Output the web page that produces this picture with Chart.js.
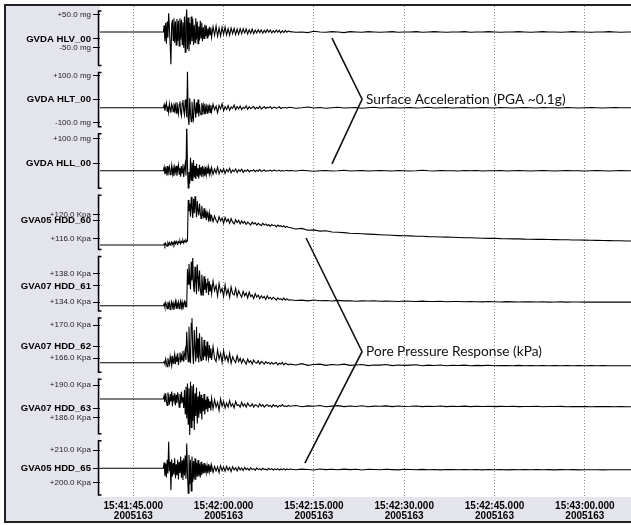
<!DOCTYPE html>
<html>
<head>
<meta charset="utf-8">
<script src="https://cdn.jsdelivr.net/npm/chart.js@4.4.1/dist/chart.umd.min.js"></script>
<style>
  html, body { margin: 0; padding: 0; background: #fff; }
  #myChart { display: block; width: 631px; height: 525px; }
</style>
</head>
<body>
<canvas id="myChart" width="631" height="525"></canvas>
<script>
// channels, top to bottom
const channelNames = ["GVDA HLV_00", "GVDA HLT_00", "GVDA HLL_00", "GVA05 HDD_60",
  "GVA07 HDD_61", "GVA07 HDD_62", "GVA07 HDD_63", "GVA05 HDD_65"];
const channelUnits = ["mg", "mg", "mg", "Kpa", "Kpa", "Kpa", "Kpa", "Kpa"];
const channelTicks = [[50, -50], [100, -100], [100], [120, 116], [138, 134], [170, 166], [190, 186], [210, 200]];

// time axis (seconds after 15:41:00)
const timeTicks = [45, 60, 75, 90, 105, 120];
const timeLabels = ["15:41:45.000", "15:42:00.000", "15:42:15.000", "15:42:30.000", "15:42:45.000", "15:43:00.000"];
const dayLabel = "2005163";

// samples:
// part A every 0.125 s from 50 s, part B every 0.25 s from 58 s, tail every 1 s from 71 s
const startA = 50, stepA = 0.125, startB = 58, stepB = 0.25, startTail = 71, stepTail = 1;

const hlvA = [
  -2, 18, -30, 25, -38, 30, -20, 55,
  10, -40, -101, 20, 35, -28, 40, -35,
  30, -42, 38, -30, 32, -45, 40, -25,
  35, -40, 28, -50, 45, -64, 30, 67,
  -55, 42, -60, 25, -40, 45, -30, 38,
  -42, 20, -35, 40, -25, 30, -38, 15,
  -28, 32, -20, 26, -30, 12, -22, 20,
  -15, 18, -20, 8, -16, 14, -10, 12];
const hlvB = [
  -18, 14, -12, 16, -15, 10, -14, 12, -9, 13,
  -11, 8, -12, 10, -7, 9, -10, 7, -9, 8,
  -7, 8, -5, 7, -8, 5, -6, 7, -7, 4,
  -5, 5, -4, 4, -6, 3, -4, 5, -3, 4,
  -5, 2, -4, 4, -3, 3, -5, 2, -4, 3,
  -3, 1];
const hlvTail = [
  -1, -3, -2, -4, 0, -2, -3, -1, -2, -4,
  -1, -2, -3, -1, -2, -3, -2, -1, -3, -2,
  -2, -1, -3, -2, -1, -2, -3, -2, -2, -1,
  -3, -2, -2, -1, -2, -3, -2, -2, -1, -2,
  -3, -2, -1, -2, -2, -3, -2, -1, -2, -2,
  -3, -2, -2, -1, -2, -3, -2];

const hltA = [
  -35, -22, -48, -28, -14, -50, -30, -55,
  -18, -40, -56, -20, -30, -52, -16, -45,
  -25, -58, -12, -40, -62, -20, -8, -55,
  -70, -15, -2, -48, -65, 0, -30, -75,
  118, -80, -108, 5, -60, -95, -10, -70,
  -85, 2, -40, -78, -12, -60, 0, -72,
  -20, -55, -65, -15, -48, -25, -60, -18,
  -50, -30, -58, -22, -45, -28, -55, -24];
const hltB = [
  -52, -20, -44, -28, -56, -25, -40, -18, -48, -30,
  -42, -26, -46, -32, -38, -24, -44, -30, -40, -28,
  -43, -33, -37, -27, -42, -31, -39, -34, -30, -41,
  -33, -38, -29, -40, -35, -31, -38, -33, -36, -30,
  -39, -34, -32, -37, -35, -31, -38, -34, -36, -33,
  -37, -34];
const hltTail = [
  -33, -37, -35, -32, -36, -34, -37, -35, -33, -36,
  -35, -34, -37, -35, -33, -36, -35, -34, -36, -35,
  -34, -36, -35, -33, -36, -35, -34, -36, -35, -34,
  -36, -35, -34, -35, -36, -34, -35, -36, -35, -34,
  -35, -36, -34, -35, -35, -36, -34, -35, -36, -35,
  -34, -35, -36, -35, -34, -35, -35];

const hllA = [
  -35, -20, -50, -28, -45, -15, -55, -30,
  -18, -52, -38, -12, -48, -25, -58, -20,
  -40, -14, -56, -30, -10, -50, -22, -60,
  -15, -45, -8, -62, -25, -5, -55, 174,
  -20, -108, -40, -90, 20, -75, 0, -80,
  10, -65, -15, -70, -5, -60, -25, -68,
  -10, -55, -20, -62, -15, -50, -28, -58,
  -18, -52, -25, -48, -20, -50, -30, -45];
const hllB = [
  -22, -50, -28, -45, -20, -48, -30, -42, -26, -47,
  -30, -40, -25, -44, -32, -39, -28, -43, -31, -38,
  -29, -42, -33, -37, -30, -40, -34, -36, -31, -39,
  -33, -37, -30, -38, -35, -32, -38, -34, -36, -33,
  -37, -34, -32, -36, -35, -33, -37, -34, -36, -35,
  -33, -36];
const hllTail = [
  -34, -36, -33, -35, -37, -35, -34, -36, -35, -33,
  -36, -35, -34, -36, -35, -34, -35, -36, -34, -35,
  -36, -35, -33, -35, -36, -34, -35, -35, -36, -34,
  -35, -34, -36, -35, -35, -34, -36, -35, -34, -35,
  -36, -35, -34, -35, -36, -35, -34, -35, -35, -36,
  -35, -34, -35, -36, -35, -34, -35];

const hdd60A = [
  114.88, 115.1, 114.75, 115.2, 114.9, 114.7, 115.25, 114.95,
  115.3, 114.85, 115.15, 115.4, 115.0, 115.3, 114.95, 115.45,
  115.1, 115.5, 115.2, 115.0, 115.45, 115.25, 115.55, 115.1,
  115.5, 115.3, 115.65, 115.2, 115.6, 115.4, 115.7, 115.45,
  115.6, 122.4, 120.5, 121.8, 119.6, 122.9, 121.0, 119.4,
  122.6, 120.2, 123.0, 121.2, 119.5, 122.2, 120.6, 119.8,
  121.8, 120.3, 119.3, 121.4, 120.0, 119.6, 121.0, 119.4,
  120.6, 119.0, 120.3, 119.7, 119.1, 120.2, 118.9, 119.9];
const hdd60B = [
  119.8, 118.8, 119.7, 119.0, 118.6, 119.6, 118.9, 119.4, 118.5, 119.5,
  118.8, 119.2, 118.5, 119.3, 118.7, 118.4, 119.1, 118.6, 119.0, 118.4,
  118.9, 118.5, 118.8, 118.3, 118.7, 118.5, 118.2, 118.7, 118.4, 118.6,
  118.2, 118.5, 118.3, 118.1, 118.5, 118.2, 118.4, 118.1, 118.3, 118.0,
  118.3, 118.1, 118.2, 117.9, 118.2, 118.0, 118.1, 117.9, 118.1, 117.8,
  118.0, 117.85];
const hdd60Tail = [
  117.8, 117.55, 117.65, 117.35, 117.4, 117.2, 117.25, 117.05, 117.0, 116.95,
  116.85, 116.8, 116.75, 116.7, 116.65, 116.6, 116.55, 116.5, 116.45, 116.42,
  116.4, 116.35, 116.33, 116.28, 116.27, 116.22, 116.2, 116.17, 116.14, 116.1,
  116.08, 116.05, 116.02, 115.98, 116.0, 115.95, 115.93, 115.9, 115.9, 115.86,
  115.85, 115.82, 115.82, 115.8, 115.78, 115.75, 115.76, 115.72, 115.72, 115.7,
  115.68, 115.66, 115.64, 115.62, 115.6, 115.58, 115.56];

const hdd61A = [
  133.53, 133.8, 133.3, 133.95, 133.6, 133.1, 134.05, 133.4,
  133.9, 133.0, 133.7, 134.1, 133.35, 133.85, 132.95, 133.6,
  134.15, 133.2, 133.9, 133.45, 134.0, 133.1, 133.75, 134.2,
  133.3, 133.95, 133.0, 133.8, 134.1, 133.4, 133.9, 133.6,
  138.6, 136.5, 139.3, 137.4, 135.8, 139.6, 137.0, 140.1,
  136.2, 135.4, 138.9, 136.8, 135.1, 139.2, 137.5, 135.5,
  138.4, 136.0, 135.0, 137.8, 136.4, 134.9, 137.6, 135.7,
  137.2, 135.3, 136.6, 137.3, 135.0, 136.9, 135.6, 136.5];
const hdd61B = [
  135.2, 136.9, 135.6, 136.3, 134.9, 136.6, 135.4, 135.9, 134.8, 136.4,
  135.1, 135.8, 134.7, 136.1, 135.2, 135.0, 135.9, 134.8, 135.6, 135.1,
  134.7, 135.5, 134.9, 135.3, 134.6, 135.4, 134.8, 135.0, 134.5, 135.2,
  134.7, 135.0, 134.5, 134.9, 134.6, 134.8, 134.4, 134.9, 134.5, 134.7,
  134.4, 134.7, 134.5, 134.3, 134.6, 134.4, 134.5, 134.3, 134.6, 134.3,
  134.5, 134.3];
const hdd61Tail = [
  134.35, 134.25, 134.3, 134.2, 134.32, 134.22, 134.25, 134.18, 134.26, 134.2,
  134.22, 134.15, 134.2, 134.17, 134.21, 134.14, 134.18, 134.15, 134.12, 134.18,
  134.14, 134.1, 134.16, 134.12, 134.1, 134.14, 134.08, 134.12, 134.1, 134.07,
  134.11, 134.08, 134.06, 134.1, 134.07, 134.05, 134.09, 134.06, 134.04, 134.08,
  134.06, 134.04, 134.07, 134.03, 134.05, 134.06, 134.03, 134.05, 134.04, 134.02,
  134.05, 134.03, 134.04, 134.02, 134.04, 134.03, 134.03];

const hdd62A = [
  165.47, 165.6, 165.3, 165.9, 165.4, 165.0, 166.0, 165.5,
  165.2, 166.2, 165.6, 165.1, 166.3, 165.4, 165.9, 166.5,
  165.3, 166.1, 165.6, 166.6, 165.2, 166.0, 166.7, 165.5,
  166.3, 165.8, 166.9, 165.6, 166.4, 167.0, 165.8, 169.2,
  167.0, 165.6, 169.8, 166.3, 165.4, 170.2, 170.8, 166.5,
  165.3, 169.4, 167.2, 165.6, 169.8, 166.0, 168.4, 165.5,
  169.0, 166.3, 165.7, 168.6, 166.8, 165.8, 168.2, 166.2,
  167.5, 165.7, 168.0, 166.4, 165.9, 167.6, 166.1, 167.2];
const hdd62B = [
  165.8, 167.4, 166.0, 165.6, 167.0, 165.9, 166.6, 165.5, 166.9, 165.8,
  166.3, 165.6, 166.6, 165.4, 166.2, 165.8, 165.5, 166.3, 165.6, 166.0,
  165.4, 165.9, 165.6, 165.3, 165.9, 165.5, 165.7, 165.3, 165.8, 165.5,
  165.4, 165.7, 165.3, 165.6, 165.5, 165.3, 165.6, 165.4, 165.5, 165.3,
  165.5, 165.3, 165.4, 165.5, 165.2, 165.4, 165.3, 165.5, 165.2, 165.4,
  165.3, 165.2];
const hdd62Tail = [
  165.3, 165.2, 165.35, 165.15, 165.25, 165.3, 165.15, 165.25, 165.2, 165.3,
  165.15, 165.2, 165.25, 165.12, 165.2, 165.18, 165.25, 165.12, 165.2, 165.15,
  165.18, 165.22, 165.1, 165.18, 165.14, 165.2, 165.1, 165.16, 165.13, 165.18,
  165.1, 165.15, 165.12, 165.16, 165.1, 165.14, 165.12, 165.1, 165.15, 165.1,
  165.13, 165.1, 165.14, 165.1, 165.12, 165.1, 165.13, 165.1, 165.12, 165.1,
  165.12, 165.1, 165.12, 165.1, 165.11, 165.1, 165.1];

const hdd63A = [
  188.29, 188.7, 187.9, 189.0, 188.1, 187.5, 189.1, 188.4,
  187.6, 188.9, 188.0, 189.2, 187.4, 188.6, 188.2, 189.0,
  187.5, 188.8, 187.8, 189.1, 188.3, 187.3, 188.9, 187.7,
  189.2, 187.9, 188.5, 187.2, 189.4, 186.5, 189.8, 185.9,
  190.2, 185.2, 189.6, 183.9, 190.4, 184.8, 189.9, 185.6,
  190.1, 184.5, 189.0, 186.2, 189.7, 185.3, 188.6, 186.0,
  189.2, 186.5, 188.8, 185.8, 188.4, 186.8, 188.9, 186.4,
  188.2, 187.0, 188.6, 186.7, 188.3, 187.2, 188.0, 186.9];
const hdd63B = [
  188.4, 187.1, 188.2, 187.3, 187.9, 186.9, 188.3, 187.4, 188.0, 187.2,
  187.8, 187.3, 188.1, 187.4, 187.7, 187.2, 188.0, 187.5, 187.6, 187.3,
  187.9, 187.4, 187.7, 187.3, 187.8, 187.5, 187.4, 187.7, 187.3, 187.6,
  187.5, 187.3, 187.7, 187.4, 187.6, 187.3, 187.5, 187.6, 187.4, 187.5,
  187.3, 187.6, 187.4, 187.5, 187.3, 187.5, 187.4, 187.6, 187.4, 187.45,
  187.35, 187.5];
const hdd63Tail = [
  187.4, 187.5, 187.35, 187.45, 187.4, 187.5, 187.35, 187.42, 187.48, 187.36,
  187.44, 187.38, 187.46, 187.35, 187.42, 187.4, 187.45, 187.36, 187.43, 187.38,
  187.4, 187.44, 187.36, 187.41, 187.38, 187.43, 187.36, 187.4, 187.38, 187.42,
  187.36, 187.4, 187.37, 187.41, 187.36, 187.39, 187.37, 187.4, 187.36, 187.38,
  187.37, 187.4, 187.35, 187.38, 187.37, 187.39, 187.35, 187.38, 187.36, 187.38,
  187.35, 187.37, 187.36, 187.38, 187.35, 187.37, 187.35];

const hdd65A = [
  204.4, 206.2, 202.1, 205.8, 201.6, 207.0, 202.8, 212.5,
  203.5, 206.4, 197.7, 207.2, 201.9, 206.0, 202.5, 207.5,
  201.4, 205.6, 202.3, 207.0, 201.0, 206.3, 203.0, 208.0,
  201.5, 206.8, 200.8, 207.4, 202.2, 208.3, 201.2, 212.0,
  203.0, 196.8, 208.5, 199.5, 207.0, 197.5, 208.0, 200.2,
  206.6, 201.0, 207.4, 200.8, 206.2, 201.8, 206.9, 202.0,
  205.9, 201.6, 206.4, 202.4, 205.6, 202.8, 206.0, 202.9,
  205.5, 203.2, 205.2, 202.9, 205.6, 203.4, 205.0, 203.3];
const hdd65B = [
  205.4, 203.2, 205.0, 203.6, 204.9, 203.1, 205.2, 203.7, 204.8, 203.5,
  205.0, 203.8, 204.7, 203.4, 204.9, 203.9, 204.6, 203.6, 204.8, 203.9,
  204.5, 203.7, 204.7, 204.0, 204.4, 203.8, 204.6, 204.0, 204.3, 203.8,
  204.5, 204.0, 204.3, 203.9, 204.4, 204.1, 204.2, 203.9, 204.4, 204.0,
  204.3, 203.9, 204.2, 204.0, 204.3, 203.9, 204.2, 204.0, 204.3, 203.9,
  204.2, 204.0];
const hdd65Tail = [
  204.2, 203.95, 204.15, 204.05, 203.9, 204.2, 204.0, 204.1, 203.95, 204.15,
  204.0, 204.1, 203.9, 204.1, 204.05, 203.95, 204.12, 204.0, 203.92, 204.1,
  204.02, 203.95, 204.08, 203.98, 204.05, 203.92, 204.06, 204.0, 203.95, 204.05,
  203.98, 204.04, 203.94, 204.02, 203.97, 204.03, 203.93, 204.0, 203.97, 204.02,
  203.95, 204.0, 203.96, 204.01, 203.94, 203.99, 203.96, 204.0, 203.94, 203.98,
  203.95, 203.98, 203.94, 203.97, 203.95, 203.96, 203.95];

const partA = [hlvA, hltA, hllA, hdd60A, hdd61A, hdd62A, hdd63A, hdd65A];
const partB = [hlvB, hltB, hllB, hdd60B, hdd61B, hdd62B, hdd63B, hdd65B];
const partTail = [hlvTail, hltTail, hllTail, hdd60Tail, hdd61Tail, hdd62Tail, hdd63Tail, hdd65Tail];

// annotation text
const braceLabels = ["Surface Acceleration (PGA ~0.1g)", "Pore Pressure Response (kPa)"];

// ---- layout ----
const xMin = 39.47, xMax = 127.67;
const axisRanges = [[-110.3, 77.4], [-124.5, 136.7], [-117.6, 143.6], [113.8, 124.03],
  [132.54, 141.01], [164.08, 171.46], [183.81, 191.32], [195.63, 214.4]];
const nameLevels = [-23.5, 0, -3, 119.05, 136.25, 167.39, 187.19, 204.4];
// brace end points: [time, axis, value]
const braceAnchors = [
  [[78.0, "y0", -21], [83.0, "y1", 1], [78.0, "y2", -6]],
  [[73.7, "y3", 116.05], [83.0, "y5", 166.8], [73.5, "y7", 206.0]],
];

const buildTrace = (a, b, tail) => {
  const pts = [{ x: xMin, y: a[0] }];
  a.forEach((v, i) => pts.push({ x: startA + i * stepA, y: v }));
  b.forEach((v, i) => pts.push({ x: startB + i * stepB, y: v }));
  tail.forEach((v, i) => pts.push({ x: startTail + i * stepTail, y: v }));
  pts.push({ x: xMax, y: tail[tail.length - 1] });
  return pts;
};

const fmtLevel = (v, unit) => (v >= 0 ? "+" : "-") + Math.abs(v).toFixed(1) + " " + unit;

const datasets = channelNames.map((name, k) => ({
  label: name,
  data: buildTrace(partA[k], partB[k], partTail[k]),
  yAxisID: "y" + k,
  borderColor: "#000",
  borderWidth: 1.1,
  pointRadius: 0,
  tension: 0,
  fill: false,
}));

const scales = {
  x: {
    type: "linear",
    position: "bottom",
    min: xMin,
    max: xMax,
    afterBuildTicks: (s) => { s.ticks = timeTicks.map((v) => ({ value: v })); },
    afterFit: (s) => { s.height = 25; s.paddingLeft = 0; s.paddingRight = 0; },
    ticks: {
      autoSkip: false,
      maxRotation: 0,
      padding: 4,
      color: "#000",
      font: { family: "'Liberation Sans', Arial, sans-serif", size: 10, weight: "bold", lineHeight: 1.0 },
      callback: (v) => [timeLabels[timeTicks.indexOf(v)], dayLabel],
    },
    grid: { color: "#8a8a8a", lineWidth: 1, drawTicks: false },
    border: { display: false, dash: [1, 2] },
  },
};

channelNames.forEach((name, k) => {
  scales["y" + k] = {
    type: "linear",
    position: "left",
    stack: "traces",
    stackWeight: 1,
    weight: 8 - k,
    min: axisRanges[k][0],
    max: axisRanges[k][1],
    afterBuildTicks: (s) => {
      s.ticks = channelTicks[k].map((v) => ({ value: v })).concat([{ value: nameLevels[k], name: true }]);
    },
    afterFit: (s) => { s.width = 94; s.paddingTop = 0; s.paddingBottom = 0; },
    ticks: {
      autoSkip: false,
      padding: 2,
      color: (c) => (c.tick && c.tick.name ? "#000" : "#222"),
      font: (c) => (c.tick && c.tick.name
        ? { family: "'Liberation Sans', Arial, sans-serif", size: 9.6, weight: "bold" }
        : { family: "'Liberation Sans', Arial, sans-serif", size: 8 }),
      callback: (v, i, ticks) => (ticks[i].name ? name : fmtLevel(v, channelUnits[k])),
    },
    grid: { drawOnChartArea: false, drawTicks: true, tickLength: 7, color: "#000", lineWidth: 1 },
    border: { display: false },
  };
});

// panel background, frame and the bracket on each channel
const framePlugin = {
  id: "frame",
  beforeDraw(chart) {
    const { ctx, chartArea: a, width, height } = chart;
    ctx.save();
    ctx.fillStyle = "#fff";
    ctx.fillRect(0, 0, width, height);
    ctx.fillStyle = "#e4e4ec";
    ctx.fillRect(5, 5, width - 5, height - 8);
    ctx.fillStyle = "#fff";
    ctx.fillRect(a.left, a.top, a.right - a.left, a.bottom - a.top);
    ctx.strokeStyle = "#222";
    ctx.lineWidth = 2;
    ctx.beginPath();
    ctx.moveTo(width, 5);
    ctx.lineTo(5, 5);
    ctx.lineTo(5, height - 3);
    ctx.lineTo(width, height - 3);
    ctx.stroke();
    ctx.restore();
  },
  afterDraw(chart) {
    const { ctx, chartArea: a } = chart;
    ctx.save();
    ctx.strokeStyle = "#000";
    ctx.lineWidth = 1.5;
    channelNames.forEach((n, k) => {
      const s = chart.scales["y" + k];
      const x0 = a.left - 1.5;
      ctx.beginPath();
      ctx.moveTo(x0 + 3, s.top + 5);
      ctx.lineTo(x0, s.top + 5);
      ctx.lineTo(x0, s.bottom - 2);
      ctx.lineTo(x0 + 3, s.bottom - 2);
      ctx.stroke();
    });
    ctx.restore();
  },
};

const bracePlugin = {
  id: "braces",
  afterDatasetsDraw(chart) {
    const { ctx } = chart;
    const xs = chart.scales.x;
    ctx.save();
    ctx.strokeStyle = "#111";
    ctx.lineWidth = 1.6;
    braceAnchors.forEach((pts, b) => {
      const p = pts.map(([t, ax, v]) => [xs.getPixelForValue(t), chart.scales[ax].getPixelForValue(v)]);
      ctx.beginPath();
      ctx.moveTo(p[0][0], p[0][1]);
      ctx.lineTo(p[1][0], p[1][1]);
      ctx.lineTo(p[2][0], p[2][1]);
      ctx.stroke();
      ctx.fillStyle = "#111";
      ctx.font = "13.7px Lato, 'Open Sans', sans-serif";
      ctx.textBaseline = "middle";
      ctx.textAlign = "left";
      ctx.fillText(braceLabels[b], p[1][0] + 4, p[1][1]);
    });
    ctx.restore();
  },
};

const ctx = document.getElementById("myChart").getContext("2d");
new Chart(ctx, {
  type: "line",
  data: { datasets },
  options: {
    responsive: false,
    animation: false,
    events: [],
    normalized: true,
    layout: { padding: { left: 6, top: 6, right: 0, bottom: 3 } },
    plugins: { legend: { display: false }, tooltip: { enabled: false } },
    scales,
  },
  plugins: [framePlugin, bracePlugin],
});
</script>
</body>
</html>
